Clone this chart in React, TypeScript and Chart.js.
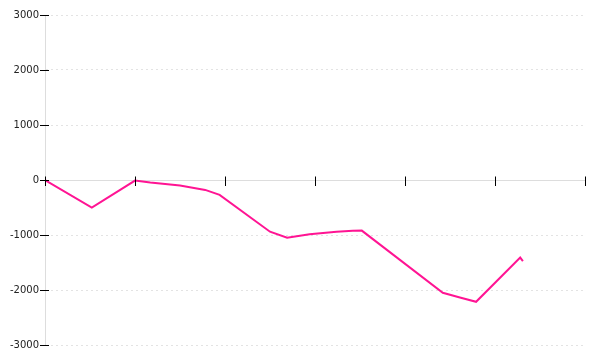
import React, { useEffect, useRef } from "react";
import { Chart, registerables } from "chart.js";

Chart.register(...registerables);

// x positions (arbitrary day units, axis ticks every 10) and values
const xValues = [0, 5.2, 10, 11.7, 15, 17.8, 19.4, 25, 26.9, 29.4, 32.4, 34.2, 35.2, 44.2, 46.1, 47.9, 52.8, 53.1];
const yValues = [0, -500, -10, -45, -100, -180, -270, -940, -1050, -985, -940, -922, -920, -2050, -2135, -2215, -1410, -1475];
const yTicks = [-3000, -2000, -1000, 0, 1000, 2000, 3000];
const xTicks = [0, 10, 20, 30, 40, 50, 60];

const tickMarks = {
  id: "tickMarks",
  afterDatasetsDraw(chart: any) {
    const ctx = chart.ctx;
    const xs = chart.scales.x;
    const ys = chart.scales.y;
    const y0 = Math.round(ys.getPixelForValue(0)) + 0.5;
    const x0 = Math.round(xs.getPixelForValue(0)) + 0.5;
    ctx.save();
    ctx.strokeStyle = "#000";
    ctx.lineWidth = 1;
    ctx.beginPath();
    for (const t of xTicks) {
      const px = Math.round(xs.getPixelForValue(t)) + 0.5;
      ctx.moveTo(px, y0 - 4);
      ctx.lineTo(px, y0 + 5.5);
    }
    for (const t of yTicks) {
      const py = Math.round(ys.getPixelForValue(t)) + 0.5;
      ctx.moveTo(x0 - 5.5, py);
      ctx.lineTo(x0 + 3.5, py);
    }
    ctx.stroke();
    ctx.restore();
  },
};

export default function App() {
  const ref = useRef<HTMLCanvasElement>(null);
  useEffect(() => {
    if (!ref.current) return;
    const chart = new Chart(ref.current, {
      type: "line",
      data: {
        datasets: [
          {
            data: xValues.map((x, i) => ({ x, y: yValues[i] })),
            borderColor: "#ff1493",
            backgroundColor: "#ff1493",
            borderWidth: 2,
            pointRadius: 0,
            tension: 0,
            fill: false,
          },
        ],
      },
      options: {
        animation: false,
        responsive: true,
        maintainAspectRatio: false,
        layout: { padding: { top: 15, bottom: 15, right: 15, left: 0 } },
        plugins: { legend: { display: false }, tooltip: { enabled: false } },
        scales: {
          x: {
            type: "linear",
            min: 0,
            max: 60,
            position: { y: 0 } as any,
            ticks: { stepSize: 10, display: false },
            grid: { display: false },
            border: { display: true, color: "#dddddd", width: 1 },
          },
          y: {
            min: -3000,
            max: 3000,
            afterFit: (s: any) => {
              s.width = 45;
            },
            ticks: {
              stepSize: 1000,
              color: "#222",
              padding: 6,
              font: { family: "DejaVu Sans", size: 10 },
              callback: (v: any) => String(v),
            },
            grid: { color: "#e3e3e3", drawTicks: false },
            border: { display: true, color: "#dddddd", dash: [2, 3] },
          },
        },
      },
      plugins: [tickMarks],
    });
    return () => chart.destroy();
  }, []);
  return (
    <div style={{ position: "absolute", left: 0, top: 0, width: 600, height: 360 }}>
      <canvas ref={ref} />
    </div>
  );
}
